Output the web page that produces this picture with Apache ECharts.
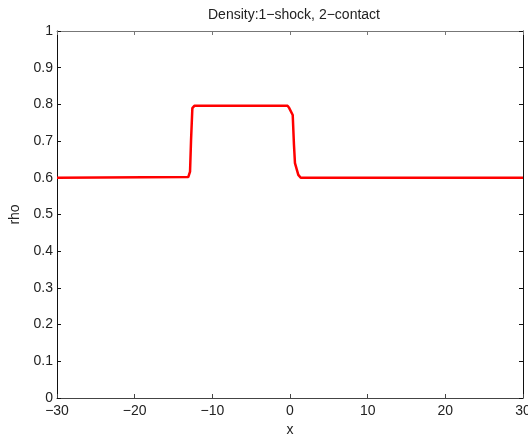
<!DOCTYPE html>
<html>
<head>
<meta charset="utf-8">
<script src="https://cdn.jsdelivr.net/npm/echarts@6/dist/echarts.min.js"></script>
<style>
  html, body { margin: 0; padding: 0; background: #fff; overflow: hidden; }
  #chart { width: 528px; height: 434px; }
</style>
</head>
<body>
<div id="chart"></div>
<script>
// Density profile: position x and density rho
const xValues   = [-30, -13.1, -12.87, -12.74, -12.57, -12.32, -0.3, -0.1, 0.35, 0.51, 0.64, 1.07, 1.38, 30];
const rhoValues = [0.6, 0.602, 0.617, 0.703, 0.79, 0.796, 0.796, 0.79, 0.771, 0.69, 0.64, 0.608, 0.6, 0.6];
const xTicks = [-30, -20, -10, 0, 10, 20, 30];
const yTicks = [0, 0.1, 0.2, 0.3, 0.4, 0.5, 0.6, 0.7, 0.8, 0.9, 1];

const FONT = 'Liberation Sans, Arial, sans-serif';
const FS = 14;
const minusFmt = v => String(+v.toFixed(1)).replace('-', '\u2212');

const chart = echarts.init(document.getElementById('chart'), null, { renderer: 'canvas', width: 528, height: 434 });

const axisLine = c => ({ show: true, onZero: false, lineStyle: { color: c, width: 1 } });
const ticks = c => ({ show: true, inside: true, length: 4, lineStyle: { color: c } });

chart.setOption({
  animation: false,
  title: {
    text: 'Density:1\u2212shock, 2\u2212contact',
    left: 289, top: 3, textAlign: 'center',
    textStyle: { fontFamily: FONT, fontSize: FS, fontWeight: 'normal', color: '#222' }
  },
  grid: { left: 57, right: 5, top: 31, bottom: 36, containLabel: false, outerBoundsMode: 'none' },
  xAxis: [{
    type: 'value', min: xTicks[0], max: xTicks[xTicks.length - 1], interval: 10,
    position: 'bottom',
    name: 'x', nameLocation: 'middle', nameGap: 25,
    nameTextStyle: { fontFamily: FONT, fontSize: FS, color: '#222' },
    axisLine: axisLine('#444'), axisTick: ticks('#444'),
    axisLabel: { fontFamily: FONT, fontSize: FS, color: '#222', margin: 6, formatter: minusFmt },
    splitLine: { show: false }
  }, {
    type: 'value', min: xTicks[0], max: xTicks[xTicks.length - 1], interval: 10,
    position: 'top',
    axisLine: axisLine('#777'), axisTick: ticks('#777'),
    axisLabel: { show: false }, splitLine: { show: false }
  }],
  yAxis: [{
    type: 'value', min: yTicks[0], max: yTicks[yTicks.length - 1], interval: 0.1,
    position: 'left',
    name: 'rho', nameLocation: 'middle', nameGap: 30, nameRotate: 90,
    nameTextStyle: { fontFamily: FONT, fontSize: FS, color: '#222' },
    axisLine: axisLine('#111'), axisTick: ticks('#111'),
    axisLabel: { fontFamily: FONT, fontSize: FS, color: '#222', margin: 4, formatter: minusFmt },
    splitLine: { show: false }
  }, {
    type: 'value', min: yTicks[0], max: yTicks[yTicks.length - 1], interval: 0.1,
    position: 'right',
    axisLine: axisLine('#111'), axisTick: ticks('#111'),
    axisLabel: { show: false }, splitLine: { show: false }
  }],
  series: [{
    type: 'line',
    xAxisIndex: 0, yAxisIndex: 0,
    data: xValues.map((x, i) => [x, rhoValues[i]]),
    showSymbol: false,
    lineStyle: { color: '#ff0000', width: 2.5 },
    itemStyle: { color: '#ff0000' }
  }]
});
</script>
</body>
</html>
